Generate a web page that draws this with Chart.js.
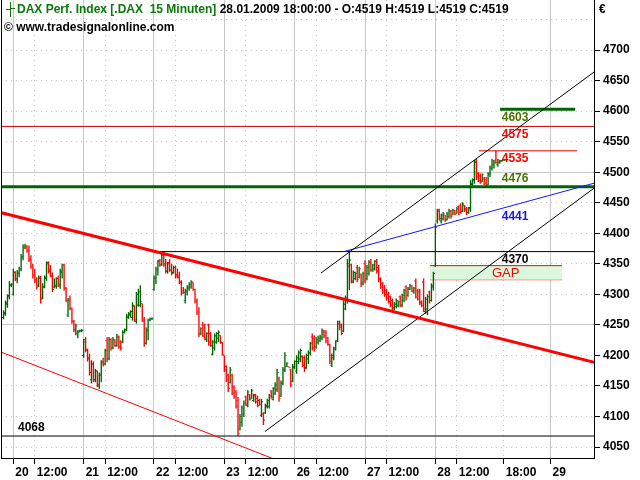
<!DOCTYPE html>
<html>
<head>
<meta charset="utf-8">
<title>DAX Perf. Index 15 Minuten</title>
<script src="https://cdn.jsdelivr.net/npm/chart.js@4.4.1/dist/chart.umd.min.js"></script>
<style>
html, body { margin: 0; padding: 0; background: #ffffff; }
canvas { display: block; }
</style>
</head>
<body>
<canvas id="chart" width="640" height="480"></canvas>
<script>
// ---------------- data ----------------
// bar index: 36 fifteen-minute bars per trading day (09:15 ... 18:00); 20.01. 09:15 = 0
const firstBar = -5;   // last five bars of 19.01.

const opens = [
  4262,4268,4284,4296,4315,
  4300,4336,4324,4334,4340,4360,4376,4378,4372,4358,4346,4332,4324,4314,4326,4294,4312,4326,4352,4340,4330,4312,4314,4326,4314,4336,4348,4310,4266,4292,4276,4256,4242,4236,4240,4240,
  4200,4226,4210,4196,4160,4186,4160,4174,4150,4168,4190,4186,4224,4194,4226,4212,4224,4216,4230,4222,4222,4238,4242,4262,4266,4262,4280,4256,4282,4282,4285,4256,4220,4240,4258,4260,
  4308,4326,4340,4356,4348,4364,4350,4338,4352,4340,4336,4344,4332,4330,4320,4306,4290,4304,4310,4312,4320,4308,4290,4272,4234,4250,4248,4226,4250,4236,4202,4212,4222,4228,4233,4222,
  4200,4182,4168,4156,4168,4148,4140,4126,4080,4090,4104,4132,4118,4136,4130,4126,4136,4130,4126,4102,4104,4106,4116,4116,4142,4128,4138,4144,4162,4134,4154,4176,4182,4182,4176,4158,
  4180,4174,4190,4194,4198,4196,4180,4194,4204,4230,4228,4214,4222,4224,4228,4238,4238,4228,4218,4184,4196,4210,4224,4255,4250,4240,4276,4290,4346,4348,4320,4326,4344,4328,4332,4318,
  4350,4326,4334,4354,4340,4342,4354,4344,4326,4318,4312,4306,4300,4296,4290,4276,4280,4282,4296,4282,4290,4312,4298,4308,4314,4304,4322,4306,4304,4288,4320,4272,4276,4304,4290,4312,
  4347,4420,4438,4420,4424,4430,4422,4428,4436,4430,4437,4432,4444,4446,4436,4446,4440,4434,4440,4480,4486,4518,4498,4494,4486,4490,4488,4480,4496,4506,4512,4520,4512,4516,4518,4519
];
const highs = [
  4274,4290,4300,4322,4318,
  4342,4338,4340,4345,4366,4382,4383,4380,4380,4364,4350,4342,4328,4331,4330,4318,4331,4354,4354,4348,4336,4326,4328,4331,4342,4350,4350,4312,4294,4298,4278,4258,4252,4241,4242,4243,
  4227,4230,4211,4203,4192,4190,4178,4175,4172,4192,4196,4211,4230,4230,4228,4230,4226,4235,4232,4225,4241,4244,4268,4271,4274,4287,4282,4304,4309,4315,4285,4263,4246,4260,4262,4262,
  4331,4345,4356,4358,4370,4366,4358,4353,4358,4350,4347,4347,4342,4337,4323,4312,4309,4315,4320,4323,4320,4309,4293,4279,4246,4255,4252,4238,4252,4238,4225,4236,4238,4241,4233,4222,
  4200,4184,4170,4181,4170,4151,4143,4132,4104,4118,4126,4134,4143,4137,4145,4137,4137,4134,4129,4129,4107,4121,4129,4137,4143,4148,4156,4178,4165,4159,4181,4205,4189,4182,4178,4186,
  4192,4200,4208,4211,4200,4200,4203,4208,4222,4236,4233,4230,4232,4234,4244,4242,4241,4230,4219,4203,4214,4225,4257,4257,4252,4290,4298,4358,4372,4350,4339,4337,4348,4345,4334,4337,
  4356,4348,4356,4358,4350,4356,4358,4348,4328,4320,4315,4309,4304,4298,4293,4287,4293,4290,4298,4301,4309,4315,4312,4317,4315,4312,4326,4309,4309,4290,4326,4296,4300,4306,4318,4337,
  4416,4440,4440,4432,4435,4430,4435,4440,4438,4440,4438,4443,4446,4449,4451,4446,4443,4443,4487,4490,4520,4522,4500,4498,4498,4492,4492,4500,4511,4522,4520,4535,4522,4520,4520,4519
];
const lows = [
  4259,4265,4278,4292,4312,
  4298,4322,4318,4328,4338,4356,4374,4368,4353,4342,4326,4318,4308,4312,4285,4292,4310,4322,4334,4328,4304,4310,4309,4312,4309,4326,4306,4287,4263,4274,4252,4238,4233,4228,4238,4238,
  4196,4205,4190,4167,4154,4156,4156,4148,4145,4156,4182,4184,4189,4192,4208,4210,4214,4214,4211,4208,4220,4236,4240,4260,4262,4257,4255,4252,4280,4279,4255,4214,4218,4225,4256,4258,
  4306,4317,4331,4345,4347,4345,4334,4334,4337,4331,4334,4326,4326,4317,4298,4301,4285,4298,4306,4309,4306,4285,4266,4230,4233,4230,4225,4222,4216,4214,4200,4208,4219,4222,4219,4200,
  4173,4156,4140,4154,4135,4129,4113,4068,4077,4083,4099,4118,4115,4126,4129,4124,4121,4115,4118,4099,4086,4104,4113,4113,4129,4126,4135,4140,4124,4132,4151,4173,4181,4180,4148,4156,
  4178,4170,4186,4189,4181,4173,4178,4186,4200,4208,4206,4211,4218,4222,4225,4228,4220,4216,4186,4181,4192,4208,4222,4241,4233,4238,4274,4285,4307,4318,4318,4323,4320,4326,4312,4315,
  4318,4323,4331,4337,4337,4339,4334,4320,4309,4301,4296,4290,4285,4279,4274,4274,4277,4279,4279,4279,4287,4290,4296,4307,4304,4301,4293,4290,4282,4279,4271,4268,4266,4285,4288,4306,
  4345,4416,4421,4416,4421,4419,4421,4424,4424,4430,4430,4432,4430,4432,4435,4435,4430,4432,4435,4476,4481,4487,4484,4481,4484,4479,4476,4479,4492,4503,4506,4514,4509,4514,4517,4519
];
const closes = [
  4270,4286,4298,4316,4317,
  4336,4326,4335,4342,4362,4378,4380,4370,4356,4346,4330,4322,4312,4328,4292,4312,4328,4350,4338,4330,4308,4314,4326,4316,4338,4348,4310,4290,4290,4278,4256,4242,4248,4238,4241,4241,
  4222,4208,4194,4172,4186,4160,4175,4152,4168,4188,4186,4208,4194,4226,4212,4226,4216,4232,4214,4212,4238,4242,4264,4268,4272,4282,4258,4300,4304,4288,4258,4220,4242,4258,4260,4261,
  4328,4342,4354,4348,4364,4348,4338,4350,4340,4334,4344,4330,4328,4320,4302,4303,4306,4312,4316,4320,4308,4288,4270,4236,4244,4232,4228,4236,4222,4216,4222,4232,4236,4238,4221,4202,
  4176,4160,4146,4176,4138,4132,4116,4072,4100,4114,4122,4120,4140,4128,4142,4134,4124,4118,4120,4124,4094,4118,4126,4134,4132,4146,4152,4172,4130,4156,4176,4200,4187,4180,4152,4182,
  4190,4196,4204,4208,4184,4178,4200,4204,4220,4212,4210,4226,4228,4230,4240,4232,4224,4218,4190,4200,4212,4222,4252,4246,4236,4284,4294,4350,4356,4322,4336,4334,4324,4342,4316,4334,
  4322,4344,4352,4340,4348,4354,4338,4324,4312,4304,4300,4294,4288,4282,4278,4284,4290,4288,4282,4298,4306,4294,4310,4314,4306,4310,4296,4292,4286,4282,4276,4292,4296,4290,4314,4334,
  4410,4436,4424,4430,4432,4422,4432,4436,4428,4438,4432,4440,4434,4436,4448,4438,4434,4442,4482,4488,4516,4492,4486,4484,4496,4482,4478,4498,4508,4518,4516,4516,4520,4519,4519,4519
];

// axis ticks
const xTickBars   = [0, 11, 36, 47, 72, 83, 108, 119, 144, 155, 180, 191, 216, 227, 251, 275];
const xTickLabels = ['20','12:00','21','12:00','22','12:00','23','12:00','26','12:00','27','12:00','28','12:00','18:00','29'];
const yTickValues = [4050,4100,4150,4200,4250,4300,4350,4400,4450,4500,4550,4600,4650,4700,4750];
const yTickMajor  = [4250, 4500];

// drawn trend lines: [bar, price] end points
const downTrendThick = [[-7, 4434.4], [298, 4188.1]];
const downTrendThin  = [[-7, 4206.4], [140, 4022.1]];
const channelUpper   = [[157.5, 4335.0], [298, 4665.9]];
const channelLower   = [[128.8, 4075.4], [298, 4475.7]];
const blueTrend      = [[169.8, 4370.5], [298, 4482.7]];
// horizontal levels: [price, fromBar, toBar]
const level4068 = [4068, -7, 298];
const level4370 = [4370, 70.5, 298];
const level4476 = [4476, -7, 298];
const level4575 = [4575, -7, 298];
const level4603 = [4603, 249.1, 287.5];
const level4535 = [4535, 238.3, 288.6];
// gap zone: [low, high, fromBar, toBar]
const gapZone = [4324, 4347, 213.3, 280.8];

// texts
const titleText = 'DAX Perf. Index [.DAX  15 Minuten]';
const stampText = '28.01.2009 18:00:00 - O:4519 H:4519 L:4519 C:4519';
const copyrightText = '\u00A9 www.tradesignalonline.com';
const currencyText = '\u20AC';

// ---------------- styles ----------------
const FONT = "'Liberation Sans', Arial, sans-serif";
const GREEN = '#006400';
const RED = '#ff0000';
const OLIVE = '#4a7400';
const BLUE = '#1414ff';
const HEADER_GREEN = '#0a780a';
const GRID = '#c8c8c8';

const levelLabels = [
  { text: '4603', bar: 250, price: 4603, side: 'below', color: OLIVE },
  { text: '4575', bar: 250, price: 4575, side: 'below', color: RED },
  { text: '4535', bar: 250, price: 4535, side: 'below', color: RED },
  { text: '4476', bar: 250, price: 4476, side: 'above', color: OLIVE },
  { text: '4441', bar: 250, price: 4441, side: 'below', color: BLUE },
  { text: '4370', bar: 250, price: 4370, side: 'below', color: '#000' },
  { text: '4068', bar: 2.4, price: 4068, side: 'above', color: '#000' }
];

// ---------------- build ----------------
const barX = i => firstBar + i;
const tickHalf = 0.85;
const barColors = closes.map((c, i) => (c >= opens[i] ? GREEN : RED));

const seg = pts => pts.map(p => ({ x: p[0], y: p[1] }));
const hline = lv => [{ x: lv[1], y: lv[0] }, { x: lv[2], y: lv[0] }];

function lineDs(data, color, width, extra) {
  return Object.assign({
    type: 'line', data, borderColor: color, backgroundColor: color,
    borderWidth: width, pointRadius: 0, pointHoverRadius: 0, fill: false,
    tension: 0, clip: 0, order: 0
  }, extra || {});
}
function barDs(data, stack, thickness) {
  return {
    type: 'bar', data, backgroundColor: barColors, borderWidth: 0, inflateAmount: 0,
    barThickness: thickness, stack, grouped: true, order: 5, clip: 0
  };
}

const datasets = [
  lineDs(seg(downTrendThick), RED, 3),
  lineDs(seg(downTrendThin), RED, 1),
  lineDs(seg(channelUpper), '#000', 1),
  lineDs(seg(channelLower), '#000', 1),
  lineDs(seg(blueTrend), BLUE, 1),
  lineDs(hline(level4068), '#000', 1),
  lineDs(hline(level4370), '#000', 1),
  lineDs(hline(level4476), '#006400', 3),
  lineDs(hline(level4575), '#cc0000', 1),
  lineDs(hline(level4603), '#006400', 3),
  lineDs(hline(level4535), '#e00000', 1),
  barDs(opens.map((o, i) => ({ x: barX(i), y: [o - tickHalf, o + tickHalf] })), 'open', 1),
  barDs(highs.map((h, i) => ({ x: barX(i), y: [lows[i], h] })), 'range', 1.35),
  barDs(closes.map((c, i) => ({ x: barX(i), y: [c - tickHalf, c + tickHalf] })), 'close', 1),
  lineDs([{ x: gapZone[2], y: gapZone[1] }, { x: gapZone[3], y: gapZone[1] }], RED, 1,
         { fill: '+1', backgroundColor: '#dcf8dc', order: 10 }),
  lineDs([{ x: gapZone[2], y: gapZone[0] }, { x: gapZone[3], y: gapZone[0] }], RED, 1,
         { order: 10 })
];

const overlay = {
  id: 'overlay',
  afterDatasetsDraw(chart) {
    const { ctx, scales: { x, y } } = chart;
    ctx.save();
    ctx.font = 'bold 12px ' + FONT;
    ctx.textBaseline = 'middle';
    ctx.textAlign = 'left';
    levelLabels.forEach(l => {
      const px = x.getPixelForValue(l.bar);
      const py = y.getPixelForValue(l.price) + (l.side === 'below' ? 8 : -8);
      ctx.fillStyle = l.color;
      ctx.fillText(l.text, px, py);
    });
    ctx.font = '13px ' + FONT;
    ctx.fillStyle = RED;
    ctx.fillText('GAP', x.getPixelForValue(245), y.getPixelForValue((gapZone[0] + gapZone[1]) / 2) + 1);
    ctx.restore();
  },
  afterDraw(chart) {
    const { ctx, chartArea } = chart;
    ctx.save();
    // left frame
    ctx.strokeStyle = '#000';
    ctx.lineWidth = 1;
    ctx.beginPath();
    ctx.moveTo(chartArea.left + 0.5, chartArea.top);
    ctx.lineTo(chartArea.left + 0.5, chartArea.bottom);
    ctx.stroke();
    // header icon
    ctx.strokeStyle = HEADER_GREEN;
    ctx.beginPath();
    ctx.moveTo(10.5, 2); ctx.lineTo(10.5, 17);
    ctx.moveTo(6, 9.5); ctx.lineTo(10, 9.5);
    ctx.moveTo(11, 8.5); ctx.lineTo(15, 8.5);
    ctx.stroke();
    // header texts
    ctx.font = 'bold 12px ' + FONT;
    ctx.textBaseline = 'middle';
    ctx.textAlign = 'left';
    ctx.fillStyle = HEADER_GREEN;
    ctx.fillText(titleText, 17, 10);
    const w = ctx.measureText(titleText).width;
    ctx.fillStyle = '#000';
    ctx.fillText(' ' + stampText, 17 + w, 10);
    ctx.fillText(copyrightText, 4, 28);
    ctx.fillText(currencyText, 599, 10);
    ctx.restore();
  }
};

new Chart(document.getElementById('chart'), {
  type: 'bar',
  data: { datasets },
  plugins: [overlay],
  options: {
    responsive: false,
    animation: false,
    devicePixelRatio: 1,
    events: [],
    layout: { padding: { left: 1, top: 0, right: 0, bottom: 0 } },
    plugins: { legend: { display: false }, tooltip: { enabled: false } },
    scales: {
      x: {
        type: 'linear', min: -6.3, max: 297.2, offset: false,
        afterBuildTicks: s => { s.ticks = xTickBars.map(v => ({ value: v })); },
        afterFit: s => { s.height = 22; s.paddingLeft = 0; s.paddingRight = 0; },
        ticks: {
          autoSkip: false, maxRotation: 0, minRotation: 0, align: 'start', labelOffset: 2,
          padding: 1, color: '#000', font: { family: FONT, size: 12, weight: 'bold' },
          callback: (v, i) => xTickLabels[i]
        },
        grid: { offset: false, color: GRID, lineWidth: 1, drawTicks: true, tickLength: 6, tickColor: '#000', tickWidth: 1 },
        border: {
          display: true, color: '#000', width: 1,
          dash: ctx => (ctx.tick && typeof ctx.tick.label === 'string' && ctx.tick.label.indexOf(':') >= 0) ? [1, 4] : []
        }
      },
      y: {
        type: 'linear', position: 'right', min: 4032, max: 4782,
        afterBuildTicks: s => { s.ticks = yTickValues.map(v => ({ value: v })); },
        afterFit: s => { s.width = 46; s.paddingTop = 0; s.paddingBottom = 0; },
        ticks: {
          padding: 3, color: '#000', font: { family: FONT, size: 12, weight: 'bold' },
          callback: v => (v <= 4700 ? String(v) : '')
        },
        grid: {
          color: GRID, lineWidth: 1, tickLength: 6, tickWidth: 1,
          tickColor: ctx => (ctx.tick && ctx.tick.value > 4700 ? 'rgba(0,0,0,0)' : '#000')
        },
        border: {
          display: true, color: '#000', width: 1,
          dash: ctx => (ctx.tick && yTickMajor.indexOf(ctx.tick.value) < 0) ? [1, 4] : []
        }
      }
    }
  }
});
</script>
</body>
</html>
